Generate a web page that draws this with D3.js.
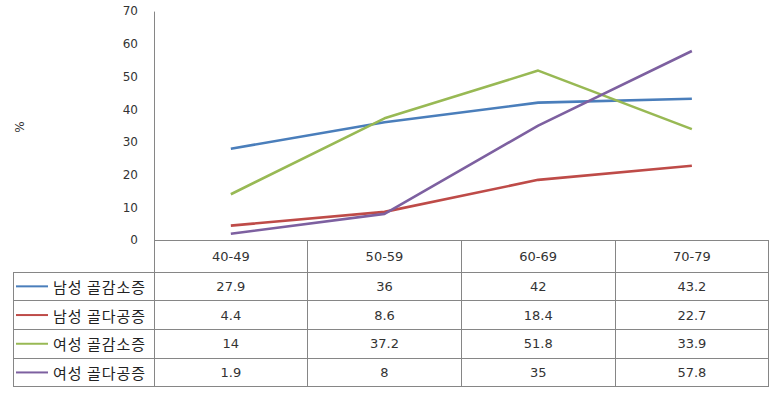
<!DOCTYPE html>
<html><head><meta charset="utf-8">
<script src="https://cdn.jsdelivr.net/npm/d3@7"></script>
<style>body{margin:0;background:#fff}svg{display:block}</style>
</head><body>
<svg id="c" width="782" height="400"></svg>
<script>
const categories = ["40-49","50-59","60-69","70-79"];
const seriesNames = ["남성 골감소증","남성 골다공증","여성 골감소증","여성 골다공증"];
const maleOsteopenia = [27.9,36,42,43.2];
const maleOsteoporosis = [4.4,8.6,18.4,22.7];
const femaleOsteopenia = [14,37.2,51.8,33.9];
const femaleOsteoporosis = [1.9,8,35,57.8];
const yTicks = [0,10,20,30,40,50,60,70];
const colors = ["#4A7EBB","#BE4B48","#98B954","#7D60A0"];
const series = [maleOsteopenia, maleOsteoporosis, femaleOsteopenia, femaleOsteoporosis];

const svg = d3.select("#c");
const grey = "#868686";
const x = d3.scaleBand().domain(categories).range([154, 768.7]);
const y = d3.scaleLinear().domain([0,70]).range([240, 11.1]);

// y axis
const yAxis = d3.axisLeft(y).tickValues(yTicks).tickSize(0).tickPadding(16);
const ya = svg.append("g").attr("transform","translate(154,0)").call(yAxis);
ya.select(".domain").attr("stroke",grey);
ya.selectAll("text").attr("font-family","DejaVu Sans").attr("font-size","12px").attr("fill","#333");
ya.selectAll("line").remove();

svg.append("text").attr("transform","translate(20,127) rotate(-90)")
  .attr("text-anchor","middle").attr("dominant-baseline","central")
  .attr("font-family","DejaVu Sans").attr("font-size","12px").attr("fill","#333").text("%");

// lines
const line = d3.line().x((d,i)=>x(categories[i])+x.bandwidth()/2).y(d=>y(d));
series.forEach((s,k)=>{
  svg.append("path").datum(s).attr("d",line).attr("fill","none")
    .attr("stroke",colors[k]).attr("stroke-width",2.6).attr("stroke-linejoin","round");
});

// data table
const headTop = 240, headBot = 272, rowH = 28.7;
const tableBot = headBot + rowH*4;
const left = 13, right = 768.7;
const tg = svg.append("g").attr("stroke",grey).attr("stroke-width",1).attr("shape-rendering","crispEdges");
tg.append("line").attr("x1",154).attr("x2",right).attr("y1",headTop).attr("y2",headTop);
for(let r=0;r<=4;r++){
  const yy = headBot + r*rowH;
  tg.append("line").attr("x1",left).attr("x2",right).attr("y1",yy).attr("y2",yy);
}
tg.append("line").attr("x1",left).attr("x2",left).attr("y1",headBot).attr("y2",tableBot);
categories.forEach(c=>{
  tg.append("line").attr("x1",x(c)).attr("x2",x(c)).attr("y1",headTop).attr("y2",tableBot);
});
tg.append("line").attr("x1",right).attr("x2",right).attr("y1",headTop).attr("y2",tableBot);

// header text
svg.selectAll(".hdr").data(categories).enter().append("text")
  .attr("x",d=>x(d)+x.bandwidth()/2).attr("y",(headTop+headBot)/2)
  .attr("text-anchor","middle").attr("dominant-baseline","central")
  .attr("font-family","DejaVu Sans").attr("font-size","13px").attr("fill","#333").text(d=>d);

// rows
series.forEach((s,k)=>{
  const cy = headBot + rowH*k + rowH/2;
  svg.append("line").attr("x1",16).attr("x2",48).attr("y1",cy).attr("y2",cy)
    .attr("stroke",colors[k]).attr("stroke-width",2);
  svg.append("text").attr("x",53).attr("y",cy).attr("dominant-baseline","central")
    .attr("font-family","'Noto Sans CJK KR'").attr("font-size","15px").attr("letter-spacing","1px")
    .attr("fill","#222").text(seriesNames[k]);
  s.forEach((v,i)=>{
    svg.append("text").attr("x",x(categories[i])+x.bandwidth()/2).attr("y",cy)
      .attr("text-anchor","middle").attr("dominant-baseline","central")
      .attr("font-family","DejaVu Sans").attr("font-size","13px").attr("fill","#333").text(v);
  });
});
</script>
</body></html>
